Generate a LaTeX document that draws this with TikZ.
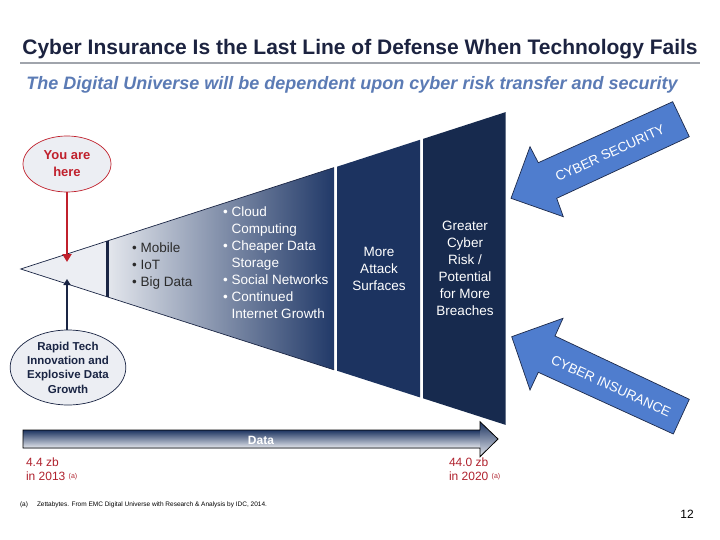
\documentclass[tikz,border=0pt]{standalone}
\usepackage{fontspec}
\setmainfont{Liberation Sans}
\usetikzlibrary{arrows.meta,shapes.geometric}
\definecolor{titlecol}{HTML}{1C2340}
\definecolor{rulecol}{HTML}{A0A4AC}
\definecolor{subcol}{HTML}{5B7BB5}
\definecolor{lightfill}{HTML}{ECEEF3}
\definecolor{navyA}{HTML}{1C3360}
\definecolor{navyB}{HTML}{172A4E}
\definecolor{navyline}{HTML}{1A2544}
\definecolor{gradR}{HTML}{213968}
\definecolor{gradM}{HTML}{8392AF}
\definecolor{gradL}{HTML}{E4E7ED}
\definecolor{redcol}{HTML}{C0202C}
\definecolor{zbred}{HTML}{B0222E}
\definecolor{arrowblue}{HTML}{4F7DCE}
\definecolor{arrowedge}{HTML}{1D2A4A}
\definecolor{darktext}{HTML}{2B2B2B}
\begin{document}
\begin{tikzpicture}[x=1pt,y=-1pt,
  base/.style={inner sep=0pt, outer sep=0pt},
  listtext/.style={base, font=\fontsize{13.5}{17}\selectfont, align=center},
  bluearrow/.style={fill=arrowblue, draw=arrowedge, line width=0.7pt, line join=miter},
  arrowlabel/.style={base, text=white, font=\fontsize{13.5}{16}\selectfont},
  bubble/.style={ellipse, inner sep=0pt, line width=0.7pt, align=center},
  zblabel/.style={base, anchor=north west, align=left, text=zbred, font=\fontsize{12}{14}\selectfont}
]
\useasboundingbox (0,0) rectangle (720,540);
\fill[white] (0,0) rectangle (720,540);

% title
\node[base, text=titlecol, font=\bfseries\fontsize{21}{24}\selectfont] (title) at (360,49) {Cyber Insurance Is the Last Line of Defense When Technology Fails};
\draw[rulecol, line width=2pt] (20,63.5) -- (700,63.5);
\node[base, text=subcol, font=\bfseries\itshape\fontsize{18}{20}\selectfont] (subtitle) at (352,85) {The Digital Universe will be dependent upon cyber risk transfer and security};

% wedge
\coordinate (apex) at (20.7,269);
\fill[lightfill] (apex) -- (107,241.1) -- (107,296.7) -- cycle;
\shade[left color=gradL, middle color=gradM, right color=gradR] (107,241.1) -- (334,167.6) -- (334,369.8) -- (107,296.7) -- cycle;
\fill[navyA] (337,166.7) -- (420,139.8) -- (420,397.4) -- (337,370.7) -- cycle;
\fill[navyB] (423,138.9) -- (505.7,112.1) -- (505.7,424.9) -- (423,398.3) -- cycle;
\draw[navyline, line width=0.7pt] (334,167.6) -- (apex) -- (334,369.8);
\draw[navyline, line width=3pt] (107,241.1) -- (107,296.7);

% lists
\node[base, anchor=west, text=darktext, font=\fontsize{13.5}{17}\selectfont] (list1) at (132,266)
 {\begin{tabular}{@{}l@{\hspace{4pt}}l@{}}\textbullet & Mobile\\ \textbullet & IoT\\ \textbullet & Big Data\end{tabular}};
\node[base, anchor=west, text=white, font=\fontsize{13.5}{17}\selectfont] (list2) at (223,263.6)
 {\begin{tabular}{@{}l@{\hspace{4pt}}l@{}}\textbullet & Cloud\\ & Computing\\ \textbullet & Cheaper Data\\ & Storage\\ \textbullet & Social Networks\\ \textbullet & Continued\\ & Internet Growth\end{tabular}};
\node[listtext, text=white] (attack) at (379,269) {More\\Attack\\Surfaces};
\node[listtext, text=white] (risk) at (465,268) {Greater\\Cyber\\Risk /\\Potential\\for More\\Breaches};

% bubbles
\node[bubble, fill=lightfill, draw=redcol, minimum width=88pt, minimum height=56pt, text=redcol, font=\bfseries\fontsize{13}{17}\selectfont] (you) at (67,164) {You are\\here};
\node[bubble, fill=lightfill, draw=navyline, minimum width=107pt, minimum height=75pt, text=navyline, font=\bfseries\fontsize{11.5}{14.3}\selectfont] (rapid) at (68,367.5) {Rapid Tech\\Innovation and\\Explosive Data\\Growth};
\coordinate (youtip) at (67,262);
\coordinate (rapidtip) at (67,279);
\draw[redcol, line width=2.5pt, -{Triangle[width=9pt,length=8pt]}] (you.south) -- (youtip);
\draw[navyline, line width=2pt, -{Triangle[width=7pt,length=6pt]}] (rapid.north -| rapidtip) -- (rapidtip);

% data arrow
\shade[top color=navyA, middle color=gradM, bottom color=gradL] (23,430) rectangle (480,448);
\shade[top color=navyA, middle color=gradM, bottom color=gradL] (480,421.7) -- (498,439) -- (480,456.7) -- cycle;
\draw[black, line width=0.8pt, line join=miter] (23,430) -- (480,430) -- (480,421.7) -- (498,439) -- (480,456.7) -- (480,448) -- (23,448) -- cycle;
\node[base, text=white, font=\bfseries\fontsize{12}{14}\selectfont] (data) at (261,440) {Data};

\node[zblabel] (zb1) at (26,458) {4.4 zb\\in 2013 {\fontsize{7}{7}\selectfont\raisebox{2.5pt}{(a)}}};
\node[zblabel] (zb2) at (449,458) {44.0 zb\\in 2020 {\fontsize{7}{7}\selectfont\raisebox{2.5pt}{(a)}}};

% blue arrows
\draw[bluearrow] (511,198.3) -- (530,146.7) -- (538.3,162.7) -- (672.7,101.7) -- (689.3,136.7) -- (556.7,198.3) -- (563.3,216.7) -- cycle;
\node[arrowlabel, rotate=24.5] (sec) at (610,153) {CYBER SECURITY};
\draw[bluearrow] (511.7,336.7) -- (563,318.3) -- (555,336) -- (689.3,399.3) -- (673.3,434) -- (538.3,372.3) -- (530,390) -- cycle;
\node[arrowlabel, rotate=-24.5] (ins) at (611,386) {CYBER INSURANCE};

% footnote and page number
\node[base, anchor=west, font=\fontsize{6.5}{8}\selectfont] (fnmark) at (20,505) {(a)};
\node[base, anchor=west, font=\fontsize{6.5}{8}\selectfont] (fn) at (37,505) {Zettabytes. From EMC Digital Universe with Research \& Analysis by IDC, 2014.};
\node[base, font=\fontsize{12}{14}\selectfont] (page) at (687,514) {12};
\end{tikzpicture}
\end{document}
